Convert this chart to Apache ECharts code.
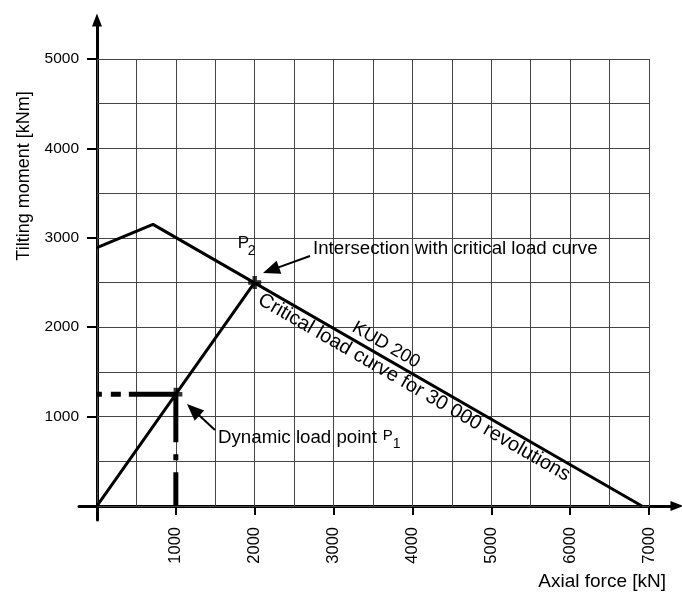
<!DOCTYPE html>
<html><head><meta charset="utf-8">
<script src="https://cdn.jsdelivr.net/npm/echarts@6/dist/echarts.min.js"></script>
<style>html,body{margin:0;padding:0;background:#fff}#c{width:682px;height:593px}</style>
</head><body><div id="c"></div>
<script>
// ---- data ----
const xTickValues = [1000, 2000, 3000, 4000, 5000, 6000, 7000];
const yTickValues = [1000, 2000, 3000, 4000, 5000];
const gridXValues = [0, 500, 1000, 1500, 2000, 2500, 3000, 3500, 4000, 4500, 5000, 5500, 6000, 6500, 7000];
const gridYValues = [0, 500, 1000, 1500, 2000, 2500, 3000, 3500, 4000, 4500, 5000];
const criticalX = [0, 710, 6910];
const criticalY = [2890, 3150, 0];
const loadX = [0, 1000, 2000];
const loadY = [0, 1250, 2500];
const P1 = [1000, 1250];
const P2 = [2000, 2500];
// annotation arrows: [tailX, tailY, tipX, tipY] in data units
const arrowIntersection = [2701, 2796, 2105, 2606];
const arrowDynamic = [1496, 850, 1141, 1141];

const FONT = '"Liberation Sans", Arial, sans-serif';
const gridMaxX = gridXValues[gridXValues.length - 1];
const gridMaxY = gridYValues[gridYValues.length - 1];

const chart = echarts.init(document.getElementById('c'));

const gridLines = [];
gridXValues.forEach(v => gridLines.push([{coord: [v, 0]}, {coord: [v, gridMaxY]}]));
gridYValues.forEach(v => gridLines.push([{coord: [0, v]}, {coord: [gridMaxX, v]}]));

const pairs = (xs, ys) => xs.map((x, i) => [x, ys[i]]);
const plusPath = 'path://M0,3.3 L3.3,3.3 L3.3,0 L6.7,0 L6.7,3.3 L10,3.3 L10,6.7 L6.7,6.7 L6.7,10 L3.3,10 L3.3,6.7 L0,6.7 Z';

function renderArrow(params, api) {
  const t = api.coord([api.value(0), api.value(1)]);
  const h = api.coord([api.value(2), api.value(3)]);
  const dx = h[0] - t[0], dy = h[1] - t[1];
  const len = Math.sqrt(dx * dx + dy * dy);
  const ux = dx / len, uy = dy / len, nx = -uy, ny = ux;
  const L = 17, W = 7;
  const bx = h[0] - ux * L, by = h[1] - uy * L;
  return {type: 'group', children: [
    {type: 'line', shape: {x1: t[0], y1: t[1], x2: bx + ux * 2, y2: by + uy * 2},
      style: {stroke: '#000', lineWidth: 2}},
    {type: 'polygon', shape: {points: [[h[0], h[1]], [bx + nx * W, by + ny * W], [bx - nx * W, by - ny * W]]},
      style: {fill: '#000'}}
  ]};
}

chart.setOption({
  animation: false,
  backgroundColor: '#fff',
  grid: {left: 79, right: 5, top: 20, bottom: 73, containLabel: false},
  xAxis: {
    type: 'value', min: -228, max: 7355,
    axisLine: {show: true, onZero: true, symbol: ['none', 'triangle'], symbolSize: [10, 13],
      lineStyle: {color: '#000', width: 3}},
    axisTick: {show: true, inside: false, length: 9, customValues: xTickValues, lineStyle: {color: '#000', width: 2}},
    axisLabel: {show: true, customValues: xTickValues, rotate: 90, margin: 7, fontSize: 16.5,
      fontFamily: FONT, color: '#000', formatter: v => String(v)},
    splitLine: {show: false}
  },
  yAxis: {
    type: 'value', min: -157, max: 5436,
    axisLine: {show: true, onZero: true, symbol: ['none', 'triangle'], symbolSize: [10, 13],
      lineStyle: {color: '#000', width: 3}},
    axisTick: {show: true, inside: false, length: 10, customValues: yTickValues, lineStyle: {color: '#000', width: 2}},
    axisLabel: {show: true, customValues: yTickValues, margin: 0, fontSize: 15.5,
      fontFamily: FONT, color: '#000', formatter: v => String(v)},
    splitLine: {show: false}
  },
  series: [
    {
      type: 'line', data: [], z: 1, silent: true,
      markLine: {silent: true, symbol: ['none', 'none'], label: {show: false},
        lineStyle: {color: '#444', width: 1, type: 'solid'}, emphasis: {disabled: true},
        data: gridLines}
    },
    {
      type: 'line', data: pairs(criticalX, criticalY), symbol: 'none', z: 5,
      lineStyle: {color: '#000', width: 3}
    },
    {
      type: 'line', data: pairs(loadX, loadY), symbol: 'none', z: 5,
      lineStyle: {color: '#000', width: 3}
    },
    {
      type: 'line', data: [P1, [0, P1[1]]], symbol: 'none', z: 5,
      lineStyle: {color: '#000', width: 5, type: [47, 8, 10, 9, 100]}
    },
    {
      type: 'line', data: [P1, [P1[0], 0]], symbol: 'none', z: 5,
      lineStyle: {color: '#000', width: 5, type: [48, 12, 6, 12, 60]}
    },
    {
      type: 'scatter', data: [P1, P2], symbol: plusPath, symbolSize: 13, z: 6,
      itemStyle: {color: '#000'}
    },
    {
      type: 'custom', data: [arrowIntersection, arrowDynamic], renderItem: renderArrow, z: 6, silent: true
    }
  ]
});

// ---- text annotations anchored in data space ----
const px = p => chart.convertToPixel({gridIndex: 0}, p);
const a = px([criticalX[1], criticalY[1]]), b = px([criticalX[2], criticalY[2]]);
const ang = -Math.atan2(b[1] - a[1], b[0] - a[0]);
const p2px = px(P2), p1px = px(P1);

function txt(x, y, text, size, align, valign, rot) {
  return {type: 'text', x: x, y: y, rotation: rot || 0, silent: true, z: 10,
    style: {text: text, x: 0, y: 0, fill: '#000', font: size + 'px ' + FONT,
      textAlign: align, textVerticalAlign: valign, align: align, verticalAlign: valign}};
}
const kud = px([3665, 1800]);
const crit = px([4020, 1325]);
chart.setOption({graphic: [
  txt(p2px[0] - 17, p2px[1] - 39, 'P', 17, 'left', 'middle'),
  txt(p2px[0] - 7, p2px[1] - 31, '2', 14, 'left', 'middle'),
  txt(313, 249, 'Intersection with critical load curve', 18.7, 'left', 'middle'),
  txt(218, 438, 'Dynamic load point', 18.7, 'left', 'middle'),
  txt(p1px[0] + 207, p1px[1] + 42, 'P', 15, 'left', 'middle'),
  txt(p1px[0] + 217, p1px[1] + 50, '1', 14, 'left', 'middle'),
  txt(kud[0], kud[1], 'KUD 200', 18.5, 'center', 'middle', ang),
  txt(crit[0], crit[1], 'Critical load curve for 30 000 revolutions', 20, 'center', 'middle', ang),
  txt(666, 582, 'Axial force [kN]', 19, 'right', 'middle'),
  txt(24, 176, 'Tilting moment [kNm]', 18, 'center', 'middle', Math.PI / 2)
]});
</script>
</body></html>
